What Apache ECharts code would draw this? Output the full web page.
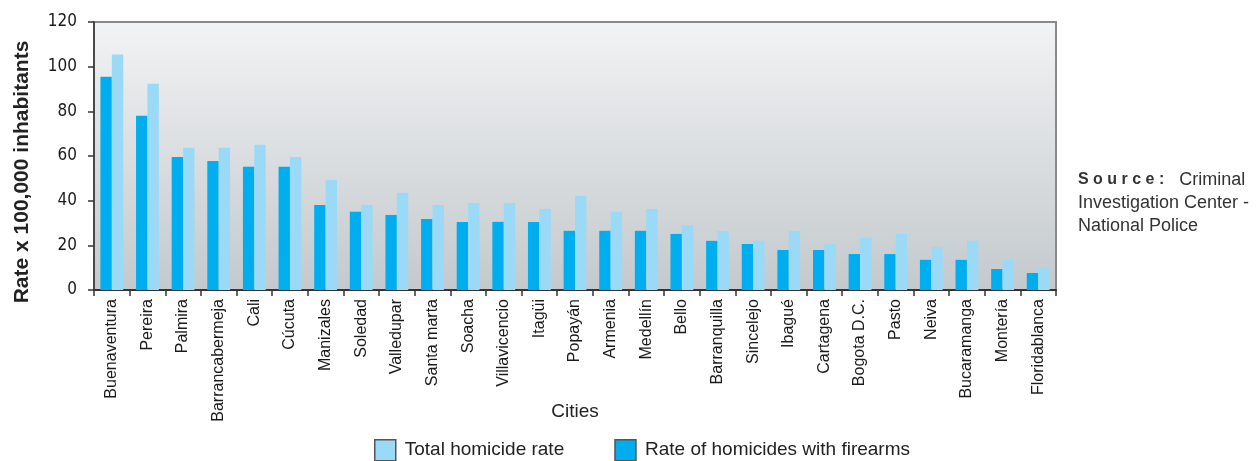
<!DOCTYPE html>
<html>
<head>
<meta charset="utf-8">
<script src="https://cdn.jsdelivr.net/npm/echarts@6/dist/echarts.min.js"></script>
<style>
  * { margin: 0; padding: 0; }
  body { background: #fff; }
</style>
</head>
<body>
<div id="chart" style="width:1257px;height:461px;"></div>
<script>
var cities = ['Buenaventura','Pereira','Palmira','Barrancabermeja','Cali','Cúcuta','Manizales','Soledad','Valledupar',
  'Santa marta','Soacha','Villavicencio','Itagüi','Popayán','Armenia','Medellín','Bello','Barranquilla',
  'Sincelejo','Ibagué','Cartagena','Bogota D.C.','Pasto','Neiva','Bucaramanga','Montería','Floridablanca'];
var firearms = [95.5,78,59.6,57.8,55.2,55.2,38.1,35,33.6,
  31.8,30.5,30.5,30.5,26.5,26.5,26.5,25.1,22,
  20.6,17.9,17.9,16.1,16.1,13.5,13.5,9.4,7.6];
var total = [105.4,92.4,63.7,63.7,65,59.6,49.3,38.1,43.5,
  38.1,39,39,36.3,42.2,35,36.3,29,26.5,
  22,26.5,20.6,23.3,25.1,19.3,22,13.5,10.3];
var yTicks = [0,20,40,60,80,100,120];

var chart = echarts.init(document.getElementById('chart'));
var font = 'Liberation Sans, Arial, sans-serif';
var narrow = 'Liberation Sans Narrow, Arial Narrow, DejaVu Sans Condensed, sans-serif';
chart.setOption({
  animation: false,
  textStyle: { fontFamily: font },
  grid: {
    left: 94, right: 201, top: 22, bottom: 171,
    outerBoundsMode: 'none',
    show: true,
    borderColor: '#8a8a8a',
    borderWidth: 2,
    backgroundColor: new echarts.graphic.LinearGradient(0, 0, 0, 1, [
      { offset: 0, color: '#f2f3f4' },
      { offset: 1, color: '#c3c9cd' }
    ])
  },
  legend: {
    left: 369, top: 434,
    itemWidth: 21, itemHeight: 21, itemGap: 50,
    icon: 'rect',
    itemStyle: { borderColor: '#555', borderWidth: 1.5 },
    textStyle: { fontSize: 19, color: '#222', fontFamily: font, padding: [0, 0, 0, 4] },
    data: ['Total homicide rate', 'Rate of homicides with firearms']
  },
  xAxis: {
    type: 'category',
    data: cities,
    name: 'Cities',
    nameLocation: 'middle',
    nameGap: 112,
    nameMoveOverlap: false,
    nameTextStyle: { fontSize: 19, color: '#222' },
    axisLine: { lineStyle: { color: '#333', width: 2 } },
    axisTick: { show: true, interval: 0, length: 6, lineStyle: { color: '#333', width: 1.5 } },
    axisLabel: { interval: 0, rotate: 90, margin: 9, fontSize: 16, color: '#1a1a1a' }
  },
  yAxis: {
    type: 'value',
    min: 0, max: 120, interval: 20,
    axisLine: { show: true, lineStyle: { color: '#333', width: 1.5 } },
    axisTick: { show: true, length: 6, lineStyle: { color: '#333', width: 1.5 } },
    splitLine: { show: false },
    axisLabel: {
      margin: 17, fontSize: 17, color: '#1a1a1a', fontFamily: narrow,
      formatter: function (v) { return yTicks.indexOf(v) >= 0 ? String(v) : ''; }
    }
  },
  series: [
    {
      name: 'Rate of homicides with firearms',
      type: 'bar',
      data: firearms,
      barGap: '0%',
      barCategoryGap: '36%',
      itemStyle: { color: '#00aeef' }
    },
    {
      name: 'Total homicide rate',
      type: 'bar',
      data: total,
      itemStyle: { color: '#9bdaf6' }
    }
  ],
  graphic: [
    {
      type: 'text', x: 22, y: 172, rotation: Math.PI / 2,
      style: {
        text: 'Rate x 100,000 inhabitants',
        fontSize: 21, fontWeight: 'bold', fill: '#222', fontFamily: font,
        align: 'center', verticalAlign: 'middle'
      }
    },
    {
      type: 'text', left: 1078, top: 171,
      style: {
        text: '{b|S o u r c e :}   Criminal',
        fontSize: 18, fill: '#333', fontFamily: font,
        rich: { b: { fontWeight: 'bold', fontSize: 16, fill: '#333' } }
      }
    },
    { type: 'text', left: 1078, top: 194, style: { text: 'Investigation Center -', fontSize: 18, fill: '#333', fontFamily: font } },
    { type: 'text', left: 1078, top: 217, style: { text: 'National Police', fontSize: 18, fill: '#333', fontFamily: font } }
  ]
});
</script>
</body>
</html>
